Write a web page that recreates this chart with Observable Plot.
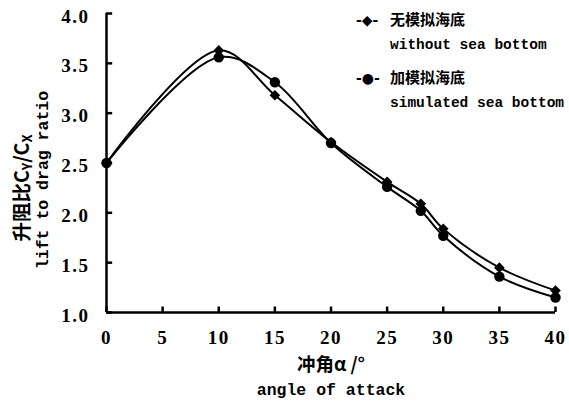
<!DOCTYPE html>
<html><head><meta charset="utf-8">
<script src="https://cdn.jsdelivr.net/npm/d3@7"></script>
<script src="https://cdn.jsdelivr.net/npm/@observablehq/plot@0.6"></script>
<style>
body{margin:0;background:#fff;}
#chart{position:relative;width:569px;height:406px;}
#chart g[aria-label="x-axis tick label"] text,
#chart g[aria-label="y-axis tick label"] text{
  font-family:'Liberation Serif','DejaVu Serif',serif !important;
  font-size:19px !important;font-weight:bold !important;letter-spacing:1.5px;fill:#000;
}
</style></head><body><div id="chart"></div>
<script>
const angles = [0, 10, 15, 20, 25, 28, 30, 35, 40];
const withoutBottom = [2.50, 3.63, 3.18, 2.71, 2.31, 2.09, 1.84, 1.45, 1.22];
const withBottom = [2.50, 3.56, 3.31, 2.70, 2.26, 2.02, 1.77, 1.36, 1.15];
const xTicks = [0, 5, 10, 15, 20, 25, 30, 35, 40];
const yTicks = [1.0, 1.5, 2.0, 2.5, 3.0, 3.5, 4.0];
const seriesCN = ["无模拟海底", "加模拟海底"];
const seriesEN = ["without sea bottom", "simulated sea bottom"];
const seriesGlyph = ["-◆-", "-●-"];

const rowsA = angles.map((a, i) => ({angle: a, value: withoutBottom[i]}));
const rowsB = angles.map((a, i) => ({angle: a, value: withBottom[i]}));

const plot = Plot.plot({
  width: 569,
  height: 406,
  marginLeft: 106,
  marginRight: 14,
  marginTop: 13,
  marginBottom: 94,
  style: {background: "#fff", overflow: "visible"},
  x: {domain: [0, 40]},
  y: {domain: [1, 4]},
  marks: [
    Plot.axisX(xTicks, {tickSize: 0, tickPadding: 18, label: null}),
    Plot.axisY(yTicks, {tickSize: 0, tickPadding: 17, label: null, dy: 3, tickFormat: d => d.toFixed(1)}),
    Plot.ruleX(xTicks, {x: d => d, y1: 1, y2: 1.055, stroke: "#000", strokeWidth: 2.5}),
    Plot.ruleY(yTicks, {y: d => d, x1: 0, x2: 0.55, stroke: "#000", strokeWidth: 2.5}),
    Plot.ruleX([0], {stroke: "#000", strokeWidth: 2.5}),
    Plot.ruleY([1], {stroke: "#000", strokeWidth: 2.5}),
    Plot.line(rowsA, {x: "angle", y: "value", curve: "catmull-rom", stroke: "#000", strokeWidth: 2}),
    Plot.line(rowsB, {x: "angle", y: "value", curve: "catmull-rom", stroke: "#000", strokeWidth: 2}),
    Plot.dot(rowsA, {x: "angle", y: "value", symbol: "diamond2", r: 4.8, fill: "#000", stroke: "none"}),
    Plot.dot(rowsB, {x: "angle", y: "value", symbol: "circle", r: 5.2, fill: "#000", stroke: "none"})
  ]
});

const svg = d3.select(plot);
const cn = "'Noto Sans CJK SC', sans-serif";
const mono = "'Liberation Mono', 'DejaVu Sans Mono', monospace";

// x title
svg.append("text").attr("x", 331).attr("y", 371).attr("text-anchor", "middle")
  .attr("font-family", cn).attr("font-size", 18.5).attr("font-weight", "bold").text("冲角α /°");
svg.append("text").attr("x", 331).attr("y", 395).attr("text-anchor", "middle")
  .attr("font-family", mono).attr("font-size", 16.5).attr("font-weight", "bold").text("angle of attack");

// y title
const yt1 = svg.append("text").attr("transform", "translate(29,188) rotate(-90)").attr("text-anchor", "middle")
  .attr("font-family", cn).attr("font-size", 19.5).attr("font-weight", "bold");
yt1.append("tspan").text("升阻比C");
yt1.append("tspan").attr("font-size", 13).attr("dy", 3).text("Y");
yt1.append("tspan").attr("dy", -3).text("/C");
yt1.append("tspan").attr("font-size", 13).attr("dy", 3).text("X");
svg.append("text").attr("transform", "translate(48,180) rotate(-90)").attr("text-anchor", "middle")
  .attr("font-family", mono).attr("font-size", 16.5).attr("font-weight", "bold").text("lift to drag ratio");

// legend
[0, 1].forEach(i => {
  const y0 = 25 + i * 58;
  svg.append("text").attr("x", 356).attr("y", y0).attr("text-anchor", "start").attr("font-family", "'DejaVu Sans', sans-serif")
    .attr("font-size", 14).attr("font-weight", "bold").text(seriesGlyph[i]);
  svg.append("text").attr("x", 390).attr("y", y0).attr("text-anchor", "start").attr("font-family", cn)
    .attr("font-size", 15).attr("font-weight", "bold").text(seriesCN[i]);
  svg.append("text").attr("x", 390).attr("y", y0 + 24).attr("text-anchor", "start").attr("font-family", mono)
    .attr("font-size", 14.5).attr("font-weight", "bold").text(seriesEN[i]);
});

document.getElementById("chart").appendChild(plot);
</script></body></html>
